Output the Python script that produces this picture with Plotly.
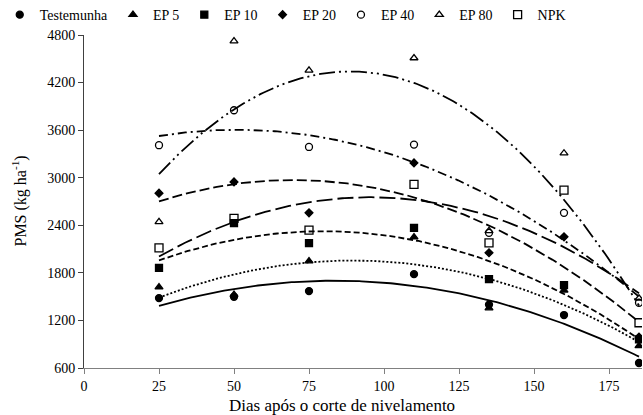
import numpy as np
import plotly.graph_objects as go

days = [25, 50, 75, 110, 135, 160, 185]
series_names = ["Testemunha", "EP 5", "EP 10", "EP 20", "EP 40", "EP 80", "NPK"]
testemunha = [1482, 1498, 1570, 1784, 1400, 1268, 663]
ep5 = [1620, 1525, 1948, 2250, 1356, 1580, 880]
ep10 = [1864, 2427, 2175, 2368, 1721, 1646, 960]
ep20 = [2805, 2947, 2557, 3187, 2053, 2254, 990]
ep40 = [3410, 3851, 3388, 3418, 2305, 2557, 1423]
ep80 = [2443, 4724, 4355, 4510, 2330, 3309, 1480]
npk = [2116, 2486, 2339, 2915, 2179, 2843, 1171]
y_ticks = [600, 1200, 1800, 2400, 3000, 3600, 4200, 4800]
x_ticks = [0, 25, 50, 75, 100, 125, 150, 175]

values = [testemunha, ep5, ep10, ep20, ep40, ep80, npk]
symbols = ["circle", "triangle-up", "square", "diamond",
           "circle-open", "triangle-up-open", "square-open"]
sizes = [7, 7, 7, 6, 7, 7, 8]
dashes = ["solid", "2px,2px", "6px,3px", "10px,4px",
          "9px,4px,2px,4px", "16px,4px,2px,4px,2px,4px", "16px,5px"]

fig = go.Figure()
xs = np.linspace(25, 185, 200)
for name, vals, dash in zip(series_names, values, dashes):
    c = np.polyfit(days, vals, 2)
    fig.add_trace(go.Scatter(x=xs, y=np.polyval(c, xs), mode="lines",
                             line=dict(color="black", width=1.8, dash=dash),
                             showlegend=False, hoverinfo="skip"))
for name, vals, sym, sz in zip(series_names, values, symbols, sizes):
    fig.add_trace(go.Scatter(x=days, y=vals, mode="markers", name=name,
                             marker=dict(symbol=sym, size=sz, color="black",
                                         line=dict(color="black", width=1.3))))

font = "Times New Roman"
fig.update_layout(
    width=643, height=415,
    margin=dict(l=84, r=1, t=35, b=47, autoexpand=False),
    paper_bgcolor="white", plot_bgcolor="white",
    font=dict(family=font, size=14, color="black"),
    legend=dict(orientation="h", x=-0.151, y=1.108, xanchor="left", yanchor="top",
                font=dict(family=font, size=14), itemwidth=30,
                bgcolor="rgba(0,0,0,0)", tracegroupgap=0),
    xaxis=dict(range=[0, 186], tickvals=x_ticks, ticks="outside", ticklen=5,
               tickcolor="#808080", showline=True, linecolor="#808080", linewidth=1,
               showgrid=False, zeroline=False, automargin=False,
               tickfont=dict(family=font, size=14)),
    yaxis=dict(range=[600, 4800], tickvals=y_ticks, ticks="outside", ticklen=5,
               tickcolor="#404040", showline=True, linecolor="#404040", linewidth=1,
               showgrid=False, zeroline=False, automargin=False,
               tickfont=dict(family=font, size=14)),
    annotations=[
        dict(text="Dias após o corte de nivelamento", xref="paper", yref="paper",
             x=(342 - 84) / 558, y=0, yshift=-37, xanchor="center", yanchor="middle",
             showarrow=False, font=dict(family=font, size=17)),
        dict(text="PMS (kg ha<sup>-1</sup>)", xref="paper", yref="paper",
             x=0, xshift=-64, y=0.5, xanchor="center", yanchor="middle", textangle=-90,
             showarrow=False, font=dict(family=font, size=16)),
    ],
)
fig.write_html("out.html", config={"displayModeBar": False},
               post_script="document.body.style.margin='0';document.body.style.overflow='hidden';")
